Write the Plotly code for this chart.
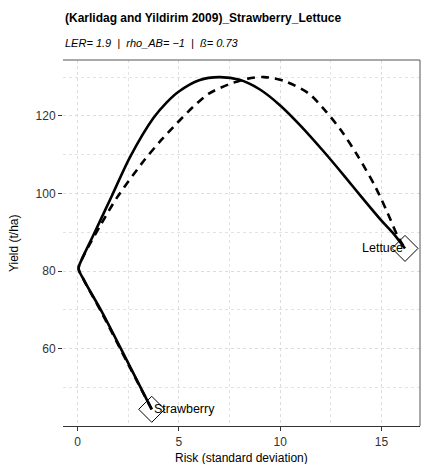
import plotly.graph_objects as go

# Data
solid_x = [3.66, 2.5, 1.2, 0.3, 0.05, 0.25, 0.8, 1.7, 2.6, 3.75, 4.4, 5.0, 6.0, 7.0, 8.0, 9.0, 10.0, 11.0, 12.2, 13.2, 14.0, 15.0, 15.6, 16.16]
solid_y = [44.4, 56.3, 69.5, 77.8, 80.7, 83.5, 89.5, 99.5, 109.5, 119.5, 123.5, 126.3, 129.2, 130.0, 129.3, 126.8, 122.7, 117.5, 110.5, 104.3, 99.2, 93.0, 89.6, 85.85]

dash_x = [3.66, 2.4, 1.2, 0.3, 0.05, 0.35, 1.15, 1.95, 3.25, 4.1, 4.9, 5.7, 6.5, 7.5, 8.4, 9.2, 10.2, 11.4, 12.2, 13.0, 13.85, 14.7, 15.3, 15.8, 16.16]
dash_y = [44.4, 57.0, 69.2, 77.8, 80.7, 84.5, 92.0, 99.0, 108.3, 113.6, 118.1, 122.3, 125.8, 128.2, 129.6, 130.0, 129.0, 125.8, 121.5, 116.3, 109.5, 101.7, 95.0, 89.0, 85.85]

crop_names = ["Strawberry", "Lettuce"]
crop_x = [3.66, 16.16]
crop_y = [44.4, 85.85]

title_text = "(Karlidag and Yildirim 2009)_Strawberry_Lettuce"
subtitle_text = "LER= 1.9  |  rho_AB= \u22121  |  \u00df= 0.73"

x_ticks = [0, 5, 10, 15]
y_ticks = [60, 80, 100, 120]

FONT = "Liberation Sans, Arial, sans-serif"

fig = go.Figure()
fig.add_trace(go.Scatter(x=solid_x, y=solid_y, mode="lines",
                         line=dict(color="black", width=2.6, shape="spline", smoothing=0.8),
                         showlegend=False))
fig.add_trace(go.Scatter(x=dash_x, y=dash_y, mode="lines",
                         line=dict(color="black", width=2.6, dash="8px,6px", shape="spline", smoothing=0.8),
                         showlegend=False))
fig.add_trace(go.Scatter(x=crop_x, y=crop_y, mode="markers",
                         marker=dict(symbol="diamond-open", size=20, color="black",
                                     line=dict(width=1, color="black")),
                         showlegend=False))

for name, xv, yv in zip(crop_names, crop_x, crop_y):
    fig.add_annotation(x=xv, y=yv, text=name, showarrow=False,
                       xanchor="left" if name == "Strawberry" else "right",
                       yanchor="middle", font=dict(size=12.5, color="black", family=FONT))

fig.add_annotation(x=0, y=1.115, xref="paper", yref="paper", text="<b>" + title_text + "</b>",
                   showarrow=False, xanchor="left", yanchor="middle",
                   font=dict(size=12, color="black", family=FONT))
fig.add_annotation(x=0, y=1.046, xref="paper", yref="paper", text="<i>" + subtitle_text + "</i>",
                   showarrow=False, xanchor="left", yanchor="middle",
                   font=dict(size=11, color="black", family=FONT))
fig.add_annotation(x=0.5, y=-0.087, xref="paper", yref="paper", text="Risk (standard deviation)",
                   showarrow=False, xanchor="center", yanchor="middle",
                   font=dict(size=12, color="black", family=FONT))
fig.add_annotation(x=-0.137, y=0.5, xref="paper", yref="paper", text="Yield (t/ha)",
                   showarrow=False, textangle=-90, xanchor="center", yanchor="middle",
                   font=dict(size=12, color="black", family=FONT))

# top and right panel border
fig.add_shape(type="line", xref="paper", yref="paper", x0=0, x1=1, y0=1, y1=1,
              line=dict(color="#555555", width=1))
fig.add_shape(type="line", xref="paper", yref="paper", x0=1, x1=1, y0=0, y1=1,
              line=dict(color="#555555", width=1))

grid = dict(showgrid=True, gridcolor="#dcdcdc", gridwidth=1, griddash="dot")
fig.update_xaxes(range=[-0.72, 16.9], tickvals=x_ticks, ticks="outside", ticklen=4,
                 tickcolor="#333333", tickwidth=1.2, showline=True, linecolor="#333333", linewidth=1.2,
                 tickfont=dict(size=12, color="#333333", family=FONT), zeroline=False,
                 automargin=False,
                 minor=dict(dtick=2.5, tick0=0, showgrid=True, gridcolor="#e3e3e3", griddash="dot"),
                 **grid)
fig.update_yaxes(range=[40.1, 134.4], tickvals=y_ticks, ticks="outside", ticklen=4,
                 tickcolor="#333333", tickwidth=1.2, showline=False,
                 tickfont=dict(size=12, color="#333333", family=FONT), zeroline=False,
                 automargin=False,
                 minor=dict(dtick=10, tick0=0, showgrid=True, gridcolor="#e3e3e3", griddash="dot"),
                 **grid)
# the page body adds an 8px offset, so the figure is sized 422x456
fig.update_layout(width=422, height=456, margin=dict(l=55, r=10, t=52, b=38, autoexpand=False),
                  plot_bgcolor="white", paper_bgcolor="white",
                  font=dict(family=FONT))
fig.write_html("out.html")
